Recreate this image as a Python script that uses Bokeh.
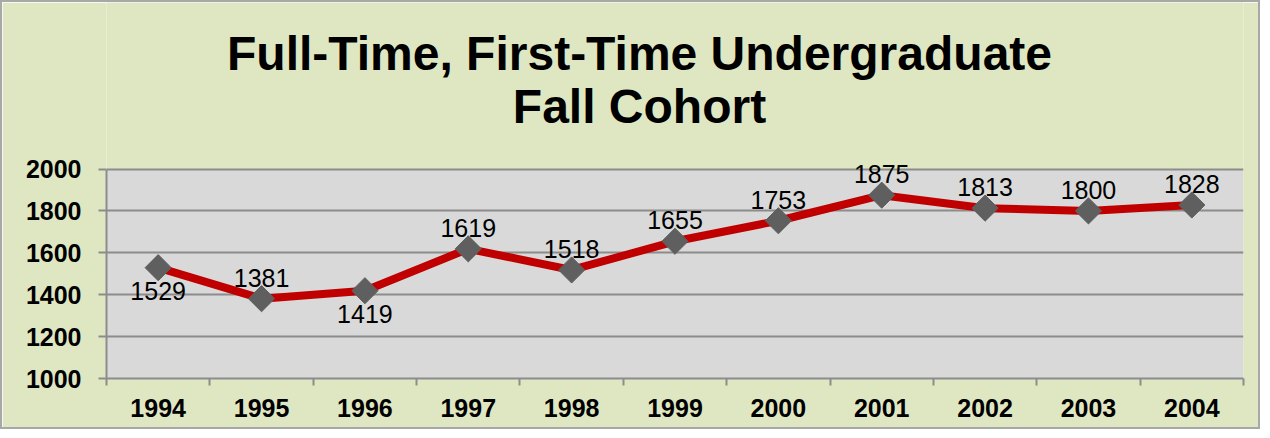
import math
from bokeh.plotting import figure
from bokeh.models import ColumnDataSource, FixedTicker, Label, LabelSet, Range1d
from bokeh.core.properties import value
from bokeh.embed import file_html
from bokeh.resources import INLINE

years = ["1994", "1995", "1996", "1997", "1998", "1999", "2000", "2001", "2002", "2003", "2004"]
cohort = [1529, 1381, 1419, 1619, 1518, 1655, 1753, 1875, 1813, 1800, 1828]
y_ticks = [1000, 1200, 1400, 1600, 1800, 2000]
y_lo, y_hi = 1000, 2000
title_lines = ["Full-Time, First-Time Undergraduate", "Fall Cohort"]
label_below = [True, False, True, False, False, False, False, False, False, False, False]

xs = list(range(1, len(years) + 1))
src = ColumnDataSource(dict(
    x=xs, y=cohort, txt=[str(v) for v in cohort],
    off=[-23 if b else 21 for b in label_below],
))

# layout: the frame spans from the canvas top down to the value axis,
# the grey plot area covers only y_lo..y_hi, the title sits in the upper part
W, H = 1260, 429
frame_h = 376            # pixels from canvas top to the category axis
px_per_unit = 209.5 / (y_hi - y_lo)
y_top = y_lo + frame_h / px_per_unit

p = figure(width=W, height=H, output_backend="svg", toolbar_location=None,
           x_range=Range1d(0.5, len(years) + 0.5), y_range=Range1d(y_lo, y_top),
           min_border_left=104, min_border_right=19, min_border_top=0,
           min_border_bottom=H - frame_h)
p.background_fill_color = "#dfe7c2"
p.border_fill_color = "#dfe7c2"
p.outline_line_color = None
p.styles = {"border": "2px solid #a8a8a8"}

# grey plot area
p.quad(left=[0.5], right=[len(years) + 0.5], bottom=[y_lo], top=[y_hi],
       fill_color="#d9d9d9", line_color=None, level="image")

p.line("x", "y", source=src, line_color="#c00000", line_width=8)
p.scatter("x", "y", source=src, marker="square", size=18.5, angle=math.pi / 4,
          fill_color="#5f5f5f", line_color="#5f5f5f")
p.add_layout(LabelSet(x="x", y="y", text="txt", source=src, y_offset="off",
                      text_align="center", text_baseline="middle",
                      text_font=value("Liberation Sans"), text_font_size="25px",
                      text_color="#000000"))

# axes
p.xaxis.ticker = FixedTicker(ticks=xs, minor_ticks=[i + 0.5 for i in range(len(years) + 1)])
p.xaxis.major_label_overrides = {x: y for x, y in zip(xs, years)}
p.xaxis.major_tick_out = 0
p.xaxis.major_tick_in = 0
p.xaxis.minor_tick_out = 7
p.xaxis.minor_tick_in = 0
p.xaxis.major_label_standoff = 13
p.yaxis.ticker = FixedTicker(ticks=y_ticks, minor_ticks=[])
p.yaxis.bounds = (y_lo, y_hi)
p.yaxis.major_tick_out = 8
p.yaxis.major_tick_in = 0
p.yaxis.minor_tick_out = 0
p.yaxis.minor_tick_in = 0
p.yaxis.major_label_standoff = 17
for ax in (p.xaxis, p.yaxis):
    ax.axis_line_color = "#8c8c8c"
    ax.axis_line_width = 2
    ax.major_tick_line_color = "#8c8c8c"
    ax.major_tick_line_width = 2
    ax.minor_tick_line_color = "#8c8c8c"
    ax.minor_tick_line_width = 2
    ax.major_label_text_font = "Liberation Sans"
    ax.major_label_text_font_style = "bold"
    ax.major_label_text_font_size = "25px"
    ax.major_label_text_color = "#000000"
p.xgrid.grid_line_color = None
p.ygrid.grid_line_color = "#8c8c8c"
p.ygrid.grid_line_width = 2

# title (two lines); screen y is measured upward from the frame bottom
for txt, yy in zip(title_lines, [325, 272]):
    p.add_layout(Label(x=533, y=yy, x_units="screen", y_units="screen", text=txt,
                       text_align="center", text_baseline="alphabetic",
                       text_font="Liberation Sans", text_font_style="bold",
                       text_font_size="48px", text_color="#000000"))

open("out.html", "w").write(file_html(p, INLINE))
